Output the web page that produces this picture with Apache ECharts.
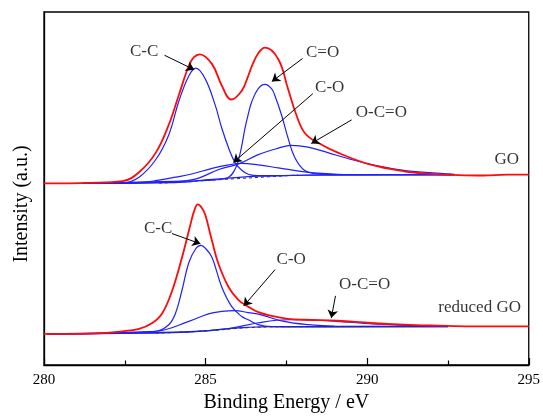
<!DOCTYPE html>
<html>
<head>
<meta charset="utf-8">
<title>C1s XPS</title>
<script src="https://cdn.jsdelivr.net/npm/echarts/dist/echarts.min.js"></script>
<style>
  html, body { margin: 0; padding: 0; background: #fff; }
  #chart { width: 543px; height: 418px; }
</style>
</head>
<body>
<div id="chart"></div>
<script>
// binding energy (eV), intensity (a.u., offset so GO sits above reduced GO)
var goEnvelope = [[280.00,184.7],[281.40,185.3],[282.43,187.0],[282.94,196.0],[283.46,216.0],[283.86,244.3],[284.17,274.3],[284.48,304.3],[284.64,313.0],[284.82,316.0],[285.20,306.0],[285.50,284.3],[285.79,270.0],[286.12,279.0],[286.32,294.0],[286.42,303.0],[286.63,317.0],[286.84,322.7],[287.25,311.0],[287.55,281.0],[287.81,254.3],[288.07,236.0],[288.48,226.0],[289.09,216.0],[290.11,203.7],[291.14,197.0],[291.96,194.3],[292.68,193.3],[293.60,192.7],[294.32,193.7],[295.00,193.7]]
var goCC = [[281.20,184.7],[282.43,185.0],[282.94,191.0],[283.46,209.0],[283.86,234.0],[284.17,268.0],[284.48,294.0],[284.70,302.0],[284.99,291.0],[285.30,264.0],[285.50,241.0],[285.71,221.0],[285.91,206.0],[286.12,198.0],[286.32,194.0],[286.63,192.5],[287.14,192.5],[288.00,193.0],[292.70,193.7]]
var goCdO = [[281.20,184.7],[284.79,187.4],[285.20,188.0],[285.71,191.0],[285.91,199.0],[286.02,209.0],[286.12,223.0],[286.22,241.0],[286.32,255.0],[286.42,267.0],[286.63,281.0],[286.84,285.3],[287.04,281.0],[287.14,274.3],[287.35,254.3],[287.55,231.0],[287.76,211.0],[288.07,197.7],[288.48,194.3],[289.09,193.5],[292.70,193.7]]
var goCO = [[281.20,184.7],[282.94,185.5],[283.56,188.0],[284.07,191.0],[284.60,194.5],[285.20,200.0],[285.71,203.5],[286.10,205.0],[286.63,203.5],[287.25,200.5],[288.07,196.5],[289.09,194.0],[290.00,193.6],[292.70,193.7]]
var goOCO = [[281.20,184.7],[283.56,185.8],[284.60,188.5],[285.45,199.3],[286.02,204.5],[286.63,214.0],[287.25,220.5],[287.65,223.3],[288.17,221.5],[288.78,216.0],[289.40,210.0],[290.32,202.5],[291.24,197.5],[292.47,194.5],[292.70,194.0]]
var goBackground = [[281.20,184.7],[283.56,185.2],[284.48,186.2],[284.79,187.5],[285.71,190.0],[286.63,192.0],[287.86,193.0],[289.40,193.4],[292.70,193.7]]
var goLinear = [[283.56,184.8],[287.86,193.2]]

var rgoEnvelope = [[280.00,31.7],[281.40,32.0],[282.43,34.3],[282.94,36.7],[283.35,42.7],[283.66,52.7],[283.97,76.0],[284.27,109.3],[284.53,142.7],[284.65,157.0],[284.76,163.3],[284.88,160.0],[284.99,152.7],[285.20,126.0],[285.40,102.7],[285.71,79.3],[286.02,66.0],[286.32,59.3],[286.63,53.7],[287.04,50.0],[287.55,47.0],[288.07,46.0],[289.09,45.0],[290.11,42.7],[291.14,41.0],[292.16,40.0],[293.19,39.3],[294.21,39.3],[295.00,39.3]]
var rgoCC = [[280.10,31.7],[282.43,33.0],[283.46,34.3],[283.86,41.0],[284.07,52.7],[284.27,76.0],[284.48,104.0],[284.70,118.5],[284.86,121.7],[285.00,118.5],[285.20,109.3],[285.50,79.3],[285.81,59.3],[286.12,49.3],[286.32,46.0],[286.63,41.0],[287.04,39.0],[288.00,38.8],[292.50,39.0]]
var rgoCO = [[280.10,31.7],[283.46,34.3],[284.48,44.3],[285.09,52.0],[285.50,54.5],[285.91,55.3],[286.32,53.3],[286.72,51.0],[287.42,44.3],[288.17,41.0],[289.00,39.5],[292.50,39.0]]
var rgoOCO = [[280.10,31.7],[284.50,34.0],[285.71,37.0],[286.63,43.0],[287.55,46.0],[288.48,45.5],[289.40,43.5],[290.32,41.5],[291.55,40.0],[292.50,39.2]]
var rgoBackground = [[280.10,31.5],[283.46,32.5],[284.48,33.5],[285.09,35.0],[285.71,37.0],[286.32,38.3],[287.04,39.0],[292.50,39.2]]
var rgoLinear = [[283.46,32.3],[285.09,34.8],[286.32,38.0],[287.50,39.0],[291.80,39.2]]

// annotations: text and arrows (start, tip) in data units
var labelNames = ['C-C', 'C=O', 'C-O', 'O-C=O', 'GO', 'C-C', 'C-O', 'O-C=O', 'reduced GO']
var labelPos = [[283.10,318.5],[288.62,318.0],[288.84,282.5],[290.44,257.0],[294.32,209.0],[283.53,138.5],[287.65,107.7],[289.92,82.0],[293.48,58.0]]
var arrows = [
  [[283.73,315.0],[284.65,300.3]],
  [[288.00,311.7],[287.05,288.3]],
  [[288.32,276.0],[285.86,206.0]],
  [[289.52,249.3],[288.27,225.3]],
  [[283.96,133.7],[284.84,123.3]],
  [[287.15,97.0],[286.18,60.0]],
  [[289.02,70.3],[288.89,47.7]]
]

var FONT = 'Liberation Serif'
var RED = '#ff0a0a'
var BLUE = '#1f1fff'

function curve(data, color, width, dashed) {
  return {
    type: 'line',
    data: data,
    showSymbol: false,
    smooth: 0.4,
    silent: true,
    lineStyle: { color: color, width: width, type: dashed ? [3, 3] : 'solid' }
  }
}

var chart = echarts.init(document.getElementById('chart'), null, { renderer: 'canvas' })

var series = [
  curve(goLinear, '#333', 1, true),
  curve(goBackground, BLUE, 1.2),
  curve(goCC, BLUE, 1.2),
  curve(goCdO, BLUE, 1.2),
  curve(goCO, BLUE, 1.2),
  curve(goOCO, BLUE, 1.2),
  curve(rgoBackground, BLUE, 1.2),
  curve(rgoCC, BLUE, 1.2),
  curve(rgoCO, BLUE, 1.2),
  curve(rgoOCO, BLUE, 1.2),
  curve(rgoLinear, '#333', 1, true),
  curve(goEnvelope, RED, 1.8),
  curve(rgoEnvelope, RED, 1.8),
  {
    type: 'scatter',
    symbolSize: 1,
    silent: true,
    itemStyle: { color: 'rgba(0,0,0,0)' },
    data: labelNames.map(function (n, i) { return { name: n, value: labelPos[i] } }),
    label: {
      show: true,
      position: 'inside',
      formatter: '{b}',
      color: '#000',
      fontSize: 17,
      fontFamily: FONT
    },
    markLine: {
      silent: true,
      animation: false,
      symbol: ['none', 'arrow'],
      symbolSize: 8,
      label: { show: false },
      lineStyle: { type: 'solid', color: '#000', width: 1 },
      data: arrows.map(function (a) { return [{ coord: a[0] }, { coord: a[1] }] })
    }
  }
]

var option = {
  animation: false,
  textStyle: { fontFamily: FONT },
  grid: {
    left: 44, right: 11, top: 12, bottom: 47,
    show: true, borderColor: '#000', borderWidth: 1.3
  },
  xAxis: {
    type: 'value',
    min: 280,
    max: 295,
    interval: 5,
    name: 'Binding Energy / eV',
    nameLocation: 'middle',
    nameGap: 28,
    nameTextStyle: { fontSize: 20, color: '#000', fontFamily: FONT },
    axisLine: { lineStyle: { color: '#000', width: 1.3 } },
    axisTick: { inside: true, length: 7, lineStyle: { color: '#000', width: 1.2 } },
    minorTick: { show: true, splitNumber: 2, length: 4.5, lineStyle: { color: '#000', width: 1.2 } },
    axisLabel: { margin: 8, fontSize: 15, color: '#000', fontFamily: FONT },
    splitLine: { show: false }
  },
  yAxis: {
    type: 'value',
    min: 0,
    max: 359,
    axisLine: { show: true, lineStyle: { color: '#000', width: 1.3 } },
    axisTick: { show: false },
    axisLabel: { show: false },
    splitLine: { show: false }
  },
  graphic: [{
    type: 'text',
    x: 22,
    y: 204,
    rotation: Math.PI / 2,
    style: {
      text: 'Intensity (a.u.)',
      fontSize: 20,
      fontFamily: FONT,
      fill: '#000',
      align: 'center',
      verticalAlign: 'middle'
    }
  }],
  series: series
}

chart.setOption(option)
</script>
</body>
</html>
